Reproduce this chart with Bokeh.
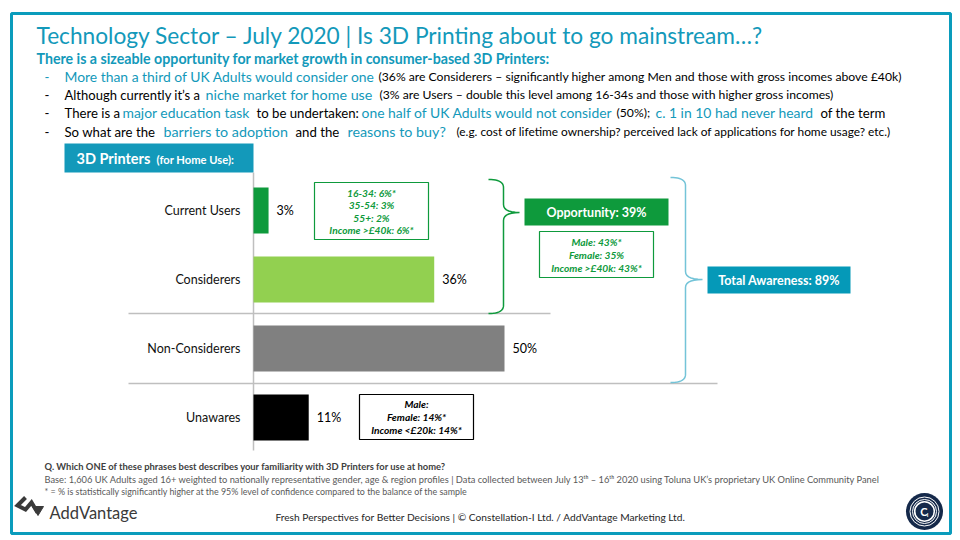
from bokeh.plotting import figure
from bokeh.models import Range1d
from bokeh.embed import file_html
from bokeh.resources import INLINE
from bokeh.core.properties import value
import numpy as np

# ---- data -------------------------------------------------------------
categories = ["Current Users", "Considerers", "Non-Considerers", "Unawares"]
shares = [3, 36, 50, 11]
bar_colors = ["#0E9A3C", "#92D050", "#808080", "#000000"]

users_breakdown = ["16-34: 6%*", "35-54: 3%", "55+: 2%", "Income >£40k: 6%*"]
opportunity_breakdown = ["Male: 43%*", "Female: 35%", "Income >£40k: 43%*"]
unaware_breakdown = ["Male:", "Female: 14%*", "Income <£20k: 14%*"]

opportunity = shares[0] + shares[1]
total_awareness = opportunity + shares[2]

# ---- styling ----------------------------------------------------------
TEAL = "#1399BA"
FRAME = "#0A9CBC"
GREEN = "#0E9A3C"
BRACE_TEAL = "#74C4D8"
GRID = "#BFBFBF"
FONT = "Lato"

W, H = 960, 540
ZERO_X = 253.0       # left edge of the bars on the canvas
PX_PER_PCT = 5.02    # horizontal scale of the bar chart
ROW_Y0, ROW_STEP, BAR_H = 210, 69, 46

p = figure(width=W, height=H, x_range=Range1d(0, W), y_range=Range1d(H, 0),
           output_backend="svg", toolbar_location=None, min_border=0,
           x_axis_location=None, y_axis_location=None)
p.grid.visible = False
p.outline_line_color = None
p.background_fill_color = "white"
p.border_fill_color = "white"
p.extra_x_ranges = {"pct": Range1d(-ZERO_X / PX_PER_PCT, (W - ZERO_X) / PX_PER_PCT)}


def txt(x, y, s, size, color="#000000", style="normal", align="left",
        font=FONT, **kw):
    p.text(x=[x], y=[y], text=[s], text_font=value(font),
           text_font_size=f"{size}px", text_color=color,
           text_font_style=style, text_align=align, text_baseline="middle", **kw)


def box(l, r, t, b, fill=None, line=None, lw=1.2):
    p.quad(left=[l], right=[r], top=[t], bottom=[b], fill_color=fill,
           line_color=line, line_width=lw)


def qcurve(p0, c, p1, n=12):
    t = np.linspace(0, 1, n)[:, None]
    pts = (1 - t) ** 2 * np.array(p0) + 2 * (1 - t) * t * np.array(c) + t ** 2 * np.array(p1)
    return pts


def brace(x_open, x_mid, y_top, y_tip, y_bot, x_tip, color, r=8, lw=1.5):
    parts = [
        qcurve((x_open, y_top), (x_mid, y_top), (x_mid, y_top + r)),
        np.array([[x_mid, y_tip - r]]),
        qcurve((x_mid, y_tip - r), (x_mid, y_tip), (x_tip, y_tip), 8),
        qcurve((x_tip, y_tip), (x_mid, y_tip), (x_mid, y_tip + r), 8),
        np.array([[x_mid, y_bot - r]]),
        qcurve((x_mid, y_bot - r), (x_mid, y_bot), (x_open, y_bot)),
    ]
    pts = np.vstack(parts)
    p.line(pts[:, 0], pts[:, 1], line_color=color, line_width=lw)


# ---- frame ------------------------------------------------------------
box(11, 950, 13, 533, line=FRAME, lw=3)

# ---- heading & commentary ---------------------------------------------
txt(36, 35, "Technology Sector \u2013 July 2020 | Is 3D Printing about to go mainstream\u2026?",
    22.7, TEAL)
txt(36, 58, "There is a sizeable opportunity for market growth in consumer-based 3D Printers:",
    14.2, TEAL, "bold")

HI, BLK, SMALL = 14.3, 13.2, 12.2
bullet_lines = [
    (76, TEAL, [
        (64, "More than a third of UK Adults would consider one", TEAL, 13.9),
        (378, "(36% are Considerers \u2013 significantly higher among Men and those with gross incomes above \u00a340k)", "#000000", SMALL),
    ]),
    (94, "#000000", [
        (64, "Although currently it\u2019s a", "#000000", 13.0),
        (205, "niche market for home use", TEAL, HI),
        (379, "(3% are Users \u2013 double this level among 16-34s and those with higher gross incomes)", "#000000", SMALL),
    ]),
    (112, "#000000", [
        (64, "There is a", "#000000", BLK),
        (122, "major education task", TEAL, 13.9),
        (256, "to be undertaken:", "#000000", BLK),
        (361, "one half of UK Adults would not consider", TEAL, 13.9),
        (616, "(50%);", "#000000", SMALL),
        (655, "c. 1 in 10  had never heard", TEAL, 13.9),
        (820, "of the term", "#000000", BLK),
    ]),
    (131, "#000000", [
        (64, "So what are the", "#000000", BLK),
        (163, "barriers to adoption", TEAL, HI),
        (295, "and the", "#000000", BLK),
        (347, "reasons to buy?", TEAL, HI),
        (456, "(e.g.  cost of lifetime ownership? perceived lack of applications for home usage? etc.)", "#000000", 11.9),
    ]),
]
for y, dash_color, segs in bullet_lines:
    txt(44, y, "-", BLK, dash_color)
    for x, s, c, sz in segs:
        txt(x, y, s, sz, c)

# ---- chart header -----------------------------------------------------
box(64, 253, 143, 172, fill=TEAL, line=None)
txt(76, 158, "3D Printers", 14.5, "white", "bold")
txt(156, 159, "(for Home Use):", 11.2, "white", "bold")

# ---- chart frame lines ------------------------------------------------
p.segment(x0=[ZERO_X], y0=[172], x1=[ZERO_X], y1=[450], line_color=GRID, line_width=1.5)
p.segment(x0=[128, 128], y0=[313, 383], x1=[550, 717], y1=[313, 383],
          line_color=GRID, line_width=1.5)

# ---- bars -------------------------------------------------------------
row_y = [ROW_Y0 + i * ROW_STEP for i in range(len(categories))]
p.hbar(y=row_y, left=0, right=shares, height=BAR_H, fill_color=bar_colors,
       line_color=None, x_range_name="pct")
p.text(x=shares, y=row_y, text=[f"{v}%" for v in shares], x_offset=8,
       text_font=value(FONT), text_font_size="12.5px", text_color="#000000",
       text_align="left", text_baseline="middle", x_range_name="pct")
p.text(x=[240] * len(categories), y=row_y, text=categories,
       text_font=value(FONT), text_font_size="12.5px", text_color="#111111",
       text_align="right", text_baseline="middle")

# ---- call-outs --------------------------------------------------------
box(314, 428, 182, 239, line=GREEN)
for i, s in enumerate(users_breakdown):
    txt(371, 192 + i * 12.6, s, 10.2, GREEN, "bold italic", "center")

brace(488, 503, 179, 212, 313, 519, GREEN)
box(524, 668, 198, 225, fill=GREEN, line=None)
txt(596, 212, f"Opportunity: {opportunity}%", 12.5, "white", "bold", "center")
box(539, 653, 231, 277, line=GREEN)
for i, s in enumerate(opportunity_breakdown):
    txt(596, 241 + i * 13, s, 10.2, GREEN, "bold italic", "center")

brace(670, 685, 177, 279, 382, 702, BRACE_TEAL)
box(707, 850, 266, 293, fill="#0599B8", line=None)
txt(778.5, 280, f"Total Awareness: {total_awareness}%", 12.5, "white", "bold", "center")

box(359, 473, 394, 439, line="#000000")
for i, s in enumerate(unaware_breakdown):
    txt(416, 403 + i * 13, s, 10.2, "#000000", "bold italic", "center")

# ---- footnotes --------------------------------------------------------
txt(44, 466, "Q. Which ONE of these phrases best describes your familiarity with  3D Printers for use at home?",
    9.4, "#404040", "bold")
txt(44, 479, "Base: 1,606 UK Adults aged 16+ weighted to nationally representative gender, age & region profiles  | "
    "Data collected between July 13\u1d57\u02b0 \u2013 16\u1d57\u02b0 2020 using Toluna UK\u2019s proprietary  UK Online Community  Panel",
    9.3, "#595959")
txt(44, 491, "* = % is statistically significantly higher at the 95% level of confidence compared to the balance of the sample",
    8.9, "#595959")
txt(480, 516, "Fresh Perspectives for Better Decisions | \u00a9 Constellation-I Ltd. / AddVantage Marketing Ltd.",
    10.2, "#262626", align="center")

# ---- AddVantage mark --------------------------------------------------
p.line([25, 17, 25, 31, 37], [497, 505, 509, 502, 512], line_color="#3A3A3A",
       line_width=4, line_join="miter")
p.patch([32, 43, 37.5], [506, 506, 515], fill_color="#3A3A3A", line_color="#3A3A3A")
txt(49, 512, "AddVantage", 16.5, "#3A3A3A")

# ---- Constellation-I mark ---------------------------------------------
p.circle(x=[924], y=[511], radius=18.5, fill_color="#15294A", line_color=None)
p.circle(x=[924, 924, 924], y=[511, 511, 511], radius=[14.5, 12, 9.8],
         fill_color=None, line_color="white", line_width=[1.0, 1.0, 1.6])
txt(923.5, 511, "C", 11, "white", "bold", "center")
txt(927, 514, "I", 5.5, "white", "bold", "center")

open("out.html", "w").write(file_html(p, INLINE))
